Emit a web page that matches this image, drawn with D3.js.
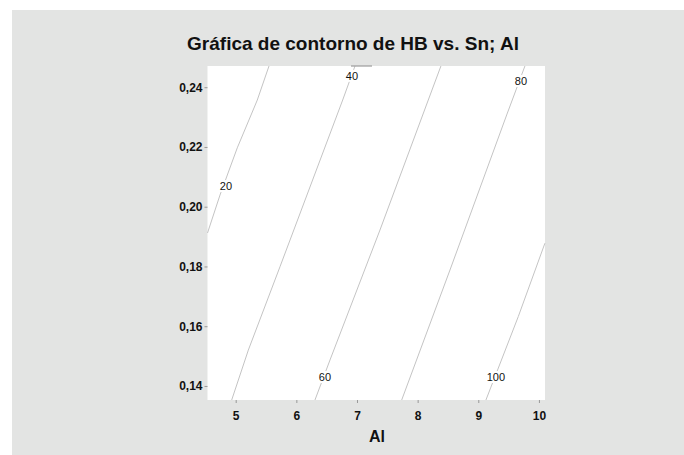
<!DOCTYPE html>
<html><head><meta charset="utf-8">
<script src="https://cdn.jsdelivr.net/npm/d3@7"></script>
<style>body{margin:0;background:#fff}svg{display:block}text{font-family:"Liberation Sans",Arial,sans-serif}</style>
</head><body><svg id="c" width="684" height="455"></svg>
<script>
// Contour levels and their polylines as [Al, Sn] points
const levels = [20, 40, 60, 80, 100];
const contour20 = [[4.535,0.1912],[4.741,0.2039],[5.026,0.2197],[5.356,0.2357],[5.549,0.2471]];
const contour40 = [[4.934,0.1353],[5.208,0.1520],[5.730,0.1799],[6.764,0.2357],[6.967,0.2471]];
const contour60 = [[6.307,0.1353],[6.555,0.1487],[7.379,0.1922],[8.175,0.2357],[8.384,0.2471]];
const contour80 = [[7.737,0.1353],[8.533,0.1788],[9.468,0.2307],[9.769,0.2471]];
const contour100 = [[9.126,0.1353],[9.659,0.1632],[10.099,0.1878]];
const edgeSegment = [[6.901,0.2471],[7.247,0.2471]];
// label positions [Al, Sn]
const labelPos = [[4.840,0.2069],[6.917,0.2438],[6.472,0.1430],[9.703,0.2421],[9.291,0.1430]];
const xTicks = [5,6,7,8,9,10];
const yTicks = [0.14,0.16,0.18,0.20,0.22,0.24];
const title = "Gráfica de contorno de HB vs. Sn; Al";
const xTitle = "Al";

const svg = d3.select("#c");
svg.append("rect").attr("x",12).attr("y",10).attr("width",672).attr("height",445).attr("fill","#e3e4e3");

const L=207.5,R=545,T=66,B=400;
const x = d3.scaleLinear().domain([4.535,10.1]).range([L,R]);
const y = d3.scaleLinear().domain([0.1353,0.2471]).range([B,T]);

svg.append("rect").attr("x",L).attr("y",T).attr("width",R-L).attr("height",B-T).attr("fill","#fff");

const line = d3.line().x(d=>x(d[0])).y(d=>y(d[1]));
const contours=[contour20,contour40,contour60,contour80,contour100];
const g = svg.append("g");
contours.forEach(c=>{
  g.append("path").attr("d",line(c)).attr("fill","none").attr("stroke","#c4c4c4").attr("stroke-width",1);
});
g.append("path").attr("d",line(edgeSegment)).attr("fill","none").attr("stroke","#9a9a9a").attr("stroke-width",1.2);

levels.forEach((lv,i)=>{
  const px=x(labelPos[i][0]), py=y(labelPos[i][1]);
  const w = String(lv).length*6.4+3;
  g.append("rect").attr("x",px-w/2).attr("y",py-6).attr("width",w).attr("height",12).attr("fill","#fff");
  g.append("text").attr("x",px).attr("y",py+4).attr("text-anchor","middle")
   .attr("font-size",11).attr("fill","#111").text(lv);
});

// axes
const xa = svg.append("g").attr("transform",`translate(0,${B})`)
  .call(d3.axisBottom(x).tickValues(xTicks).tickSize(3).tickPadding(8).tickFormat(d3.format("d")));
const ya = svg.append("g").attr("transform",`translate(${L},0)`)
  .call(d3.axisLeft(y).tickValues(yTicks).tickSize(3).tickPadding(2).tickFormat(d=>d3.format(".2f")(d).replace(".",",")));
[xa,ya].forEach(a=>{
  a.select(".domain").remove();
  a.selectAll(".tick line").attr("stroke","#999");
  a.selectAll(".tick text").attr("font-family","'Liberation Sans',Arial,sans-serif").attr("font-size",12).attr("font-weight","bold").attr("fill","#111");
});

svg.append("text").attr("x",353).attr("y",50).attr("text-anchor","middle")
  .attr("font-size",19).attr("font-weight","bold").attr("fill","#111").text(title);
svg.append("text").attr("x",377).attr("y",442).attr("text-anchor","middle")
  .attr("font-size",16).attr("font-weight","bold").attr("fill","#111").text(xTitle);
</script></body></html>
